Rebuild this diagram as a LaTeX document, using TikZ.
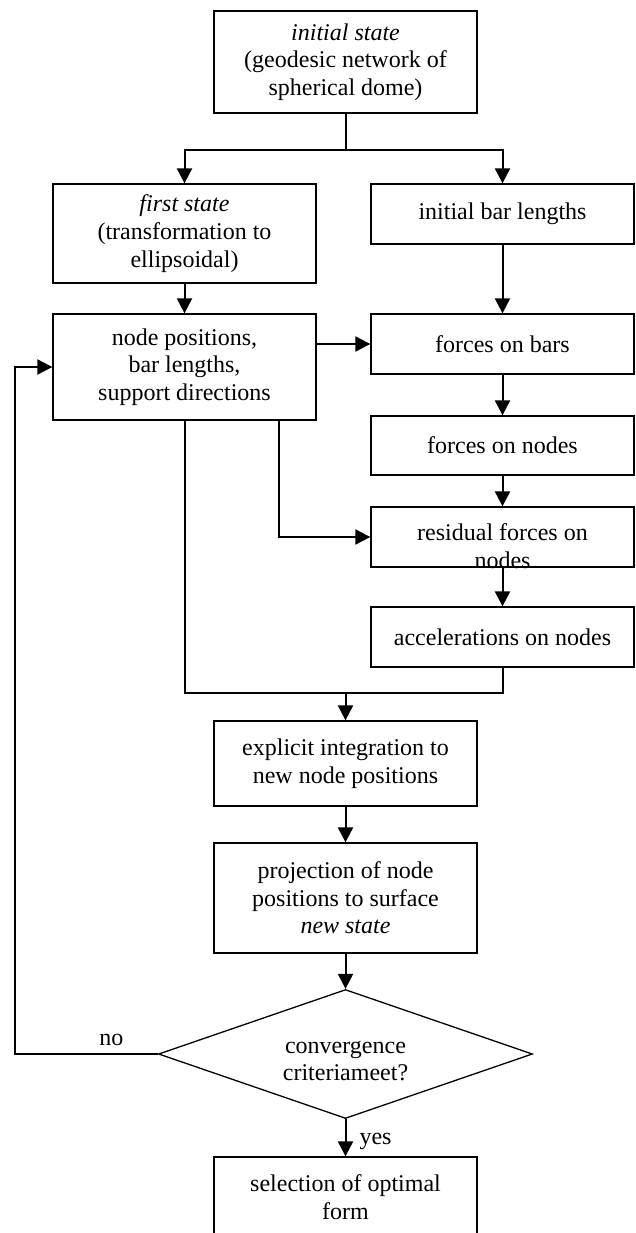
\documentclass[tikz,border=0pt]{standalone}
\usepackage{fontspec}
\setmainfont{Liberation Serif}
\usetikzlibrary{arrows.meta,shapes.geometric}
\begin{document}
\begin{tikzpicture}[x=0.5pt,y=-0.5pt,
  txt/.style={font=\fontsize{12}{13.8}\selectfont},
  box/.style={txt,draw,line width=0.65pt,inner sep=0pt,minimum width=131.5pt,align=center},
  conn/.style={line width=1pt},
  arr/.style={conn,-{Triangle[length=7.5pt,width=7.5pt]}},
  lbl/.style={txt,inner sep=0pt}]
\useasboundingbox (0,0) rectangle (636,1233);
\clip (0,0) rectangle (636,1233);
\node[box,minimum height=51pt] (init) at (345.5,62) {\textit{initial state}\\(geodesic network of\\spherical dome)};
\node[box,minimum height=49.5pt] (first) at (184.5,233.5) {\textit{first state}\\(transformation to\\ellipsoidal)};
\node[box,minimum height=30pt] (ibl) at (502.5,214) {initial bar lengths};
\node[box,minimum height=53pt] (np) at (184.5,367) {node positions,\\bar lengths,\\support directions};
\node[box,minimum height=30pt] (fob) at (502.5,344) {forces on bars};
\node[box,minimum height=29.5pt] (fon) at (502.5,445.5) {forces on nodes};
\node[box,minimum height=30pt] (res) at (502.5,537) {};
\node[lbl,align=center] (restext) at (502.5,546) {residual forces on\\nodes};
\node[box,minimum height=30pt] (acc) at (502.5,637) {accelerations on nodes};
\node[box,minimum height=42.5pt] (expl) at (345.5,763.5) {explicit integration to\\new node positions};
\node[box,minimum height=55pt] (proj) at (345.5,898) {projection of node\\positions to surface\\\textit{new state}};
\node[draw,diamond,line width=0.65pt,minimum width=187pt,minimum height=64.5pt,inner sep=0pt] (dec) at (345.5,1054) {};
\node[lbl,align=center] (dectext) at (345.5,1061) {convergence\\criteriameet?};
\node[box,minimum height=40pt] (sel) at (345.5,1197) {selection of optimal\\form};
% connectors
\path (init.south) ++(0,36) coordinate (split);
\draw[conn] (init.south) -- (split);
\draw[arr] (split) -| (first.north);
\draw[arr] (split) -| (ibl.north);
\draw[arr] (first.south) -- (np.north);
\draw[arr] (ibl.south) -- (fob.north);
\draw[arr] (np.east |- fob.west) -- (fob.west);
\draw[arr] (fob.south) -- (fon.north);
\draw[arr] (fon.south) -- (res.north);
\draw[arr] (res.south) -- (acc.north);
\path (np.south east) ++(-38,0) coordinate (npb);
\draw[arr] (npb) |- (res.west);
\path (expl.north) ++(0,-27) coordinate (merge);
\draw[conn] (np.south) |- (merge);
\draw[conn] (acc.south) |- (merge);
\draw[arr] (merge) -- (expl.north);
\draw[arr] (expl.south) -- (proj.north);
\draw[arr] (proj.south) -- (dec.north);
\draw[arr] (dec.south) -- (sel.north) node[lbl,pos=0.6,anchor=west,xshift=6.5pt] (yes) {yes};
\path (dec.west) ++(-143,0) coordinate (lp);
\draw[arr] (dec.west) -- (lp) node[lbl,pos=0.325,anchor=south,yshift=3.8pt] (no) {no} |- (np.west);
\end{tikzpicture}
\end{document}
